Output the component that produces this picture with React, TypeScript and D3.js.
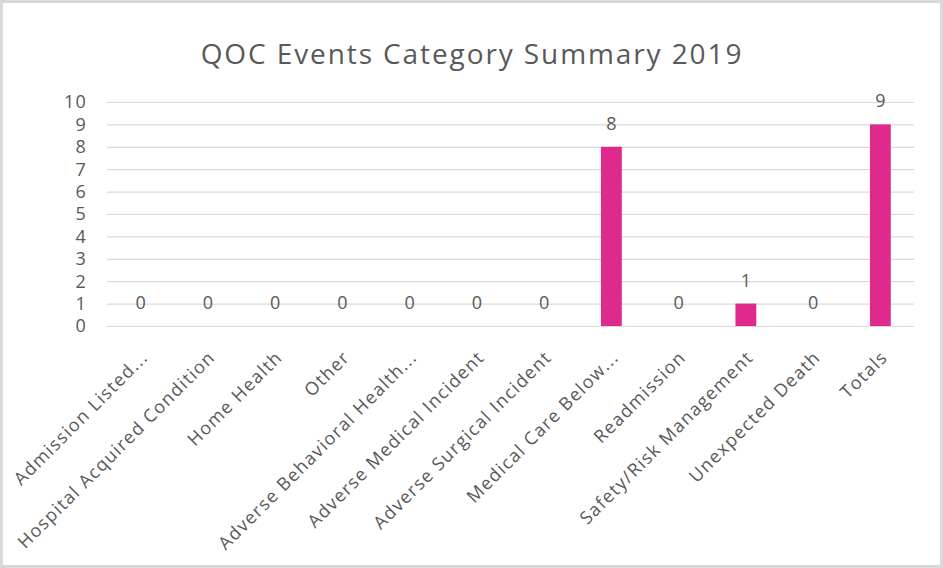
import React, { useRef, useEffect } from 'react';
import * as d3 from 'd3';

const categories = [
  'Admission Listed...',
  'Hospital Acquired Condition',
  'Home Health',
  'Other',
  'Adverse Behavioral Health...',
  'Adverse Medical Incident',
  'Adverse Surgical Incident',
  'Medical Care Below...',
  'Readmission',
  'Safety/Risk Management',
  'Unexpected Death',
  'Totals',
];
const counts = [0, 0, 0, 0, 0, 0, 0, 8, 0, 1, 0, 9];
const yTicks = [0, 1, 2, 3, 4, 5, 6, 7, 8, 9, 10];
const title = 'QOC Events Category Summary 2019';

const W = 943;
const H = 568;
const FONT = '"Open Sans", "Noto Sans", sans-serif';
const TEXT = '#595959';

const App = () => {
  const svgRef = useRef<SVGSVGElement>(null);

  useEffect(() => {
    const svg = d3.select(svgRef.current);
    svg.selectAll('*').remove(); // start fresh

    const left = 107, right = 914, top = 102, bottom = 326;

    // outer frame
    svg.append('rect')
      .attr('x', 0).attr('y', 0).attr('width', W).attr('height', H)
      .attr('fill', '#fff');
    svg.append('rect')
      .attr('x', 1.5).attr('y', 1.5).attr('width', W - 3).attr('height', H - 3)
      .attr('fill', 'none').attr('stroke', '#d9d9d9').attr('stroke-width', 3);

    const x = d3.scaleBand<string>()
      .domain(categories)
      .range([left, right])
      .paddingInner(0.69)
      .paddingOuter(0.345);

    const y = d3.scaleLinear().domain([0, 10]).range([bottom, top]);

    // title
    svg.append('text')
      .attr('x', 472).attr('y', 64)
      .attr('text-anchor', 'middle')
      .attr('font-family', FONT).attr('font-size', 28)
      .attr('letter-spacing', 1.9)
      .attr('fill', TEXT)
      .text(title);

    // gridlines
    svg.append('g')
      .selectAll('line')
      .data(yTicks)
      .join('line')
      .attr('x1', left).attr('x2', right)
      .attr('y1', d => y(d) + 0.5).attr('y2', d => y(d) + 0.5)
      .attr('stroke', '#d9d9d9').attr('stroke-width', 1.2);

    // y labels
    svg.append('g')
      .selectAll('text')
      .data(yTicks)
      .join('text')
      .attr('x', 87).attr('y', d => y(d))
      .attr('dy', '0.36em')
      .attr('text-anchor', 'end')
      .attr('font-family', FONT).attr('font-size', 18)
      .attr('letter-spacing', 1.2)
      .attr('fill', TEXT)
      .text(d => d);

    // bars
    const step = x.step();
    const bw = step * 0.31;
    svg.append('g')
      .selectAll('rect')
      .data(categories)
      .join('rect')
      .attr('x', d => (x(d) as number) + x.bandwidth() / 2 - bw / 2)
      .attr('y', (d, i) => y(counts[i]))
      .attr('width', bw)
      .attr('height', (d, i) => y(0) - y(counts[i]))
      .attr('fill', '#e0298c');

    // value labels
    svg.append('g')
      .selectAll('text')
      .data(categories)
      .join('text')
      .attr('x', d => (x(d) as number) + x.bandwidth() / 2)
      .attr('y', (d, i) => y(counts[i]) - 17)
      .attr('text-anchor', 'middle')
      .attr('font-family', FONT).attr('font-size', 18)
      .attr('fill', TEXT)
      .text((d, i) => counts[i]);

    // category labels, rotated
    svg.append('g')
      .selectAll('text')
      .data(categories)
      .join('text')
      .attr('transform', d => `translate(${(x(d) as number) + x.bandwidth() / 2 + 4},${bottom + 28}) rotate(-45)`)
      .attr('text-anchor', 'end')
      .attr('dy', '0.35em')
      .attr('font-family', FONT).attr('font-size', 18)
      .attr('letter-spacing', 1.3)
      .attr('fill', TEXT)
      .text(d => d);
  }, []);

  return (
    <svg ref={svgRef} width={W} height={H}
      style={{ position: 'absolute', left: 0, top: 0, display: 'block' }} />
  );
};

export default App;
